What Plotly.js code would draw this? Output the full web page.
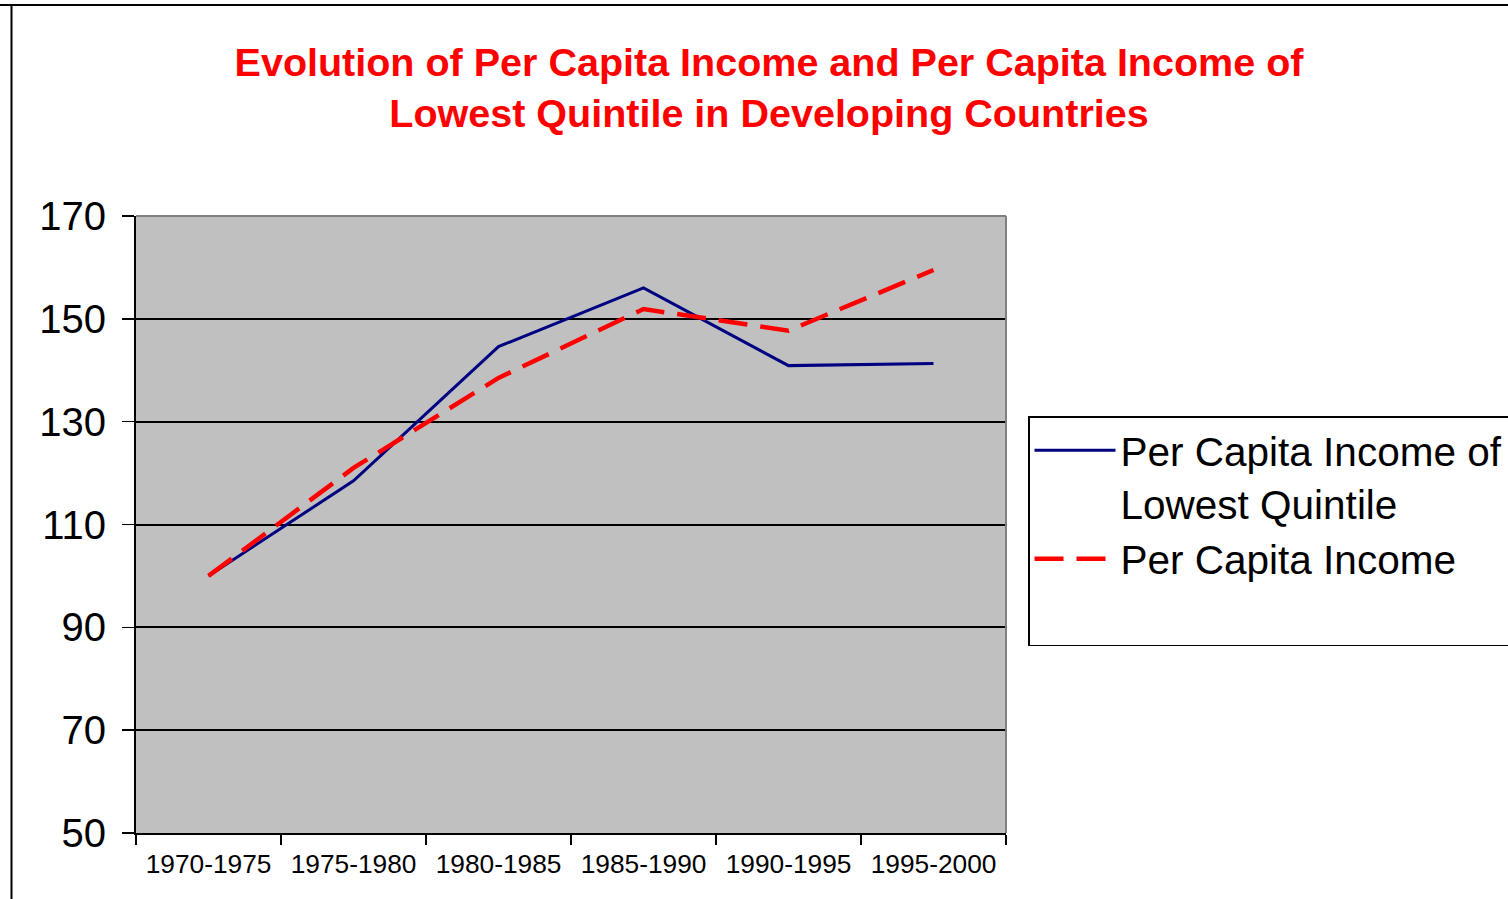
<!DOCTYPE html>
<html>
<head>
<meta charset="utf-8">
<script src="https://cdn.plot.ly/plotly-3.0.1.min.js"></script>
<style>
  html, body { margin: 0; padding: 0; background: #ffffff; overflow: hidden; width: 1508px; height: 899px; }
  #chart { width: 1560px; height: 899px; }
</style>
</head>
<body>
<div id="chart"></div>
<script>
// ---- data ----
const periods = ["1970-1975", "1975-1980", "1980-1985", "1985-1990", "1990-1995", "1995-2000"];
const lowestQuintile = [100, 118.5, 144.6, 156.0, 140.9, 141.3];
const perCapita = [100, 121.0, 138.5, 151.9, 147.7, 159.5];
const yTicks = [50, 70, 90, 110, 130, 150, 170];

const seriesNames = ["Per Capita Income of<br>Lowest Quintile", "Per Capita Income<br> "];

// ---- layout geometry (pixels) ----
const W = 1560, H = 899;
const L = 136, R = 1006, T = 216, B = 833;
const px2x = x => (x - L) / (R - L);
const px2y = y => (B - y) / (B - T);
const FONT = "Liberation Sans, Arial, sans-serif";

const traces = [
  {
    x: periods, y: lowestQuintile, name: seriesNames[0],
    type: "scatter", mode: "lines",
    line: { color: "#000080", width: 3 }
  },
  {
    x: periods, y: perCapita, name: seriesNames[1],
    type: "scatter", mode: "lines",
    line: { color: "#ff0000", width: 4.5, dash: "29px,13px" }
  }
];

const layout = {
  width: W, height: H,
  paper_bgcolor: "#ffffff",
  plot_bgcolor: "#c0c0c0",
  margin: { l: L, r: W - R, t: T, b: H - B, pad: 0 },
  font: { family: FONT, color: "#000000" },
  title: {
    text: "Evolution of Per Capita Income and Per Capita Income of<br>Lowest Quintile in Developing Countries",
    font: { family: FONT, size: 39.5, color: "#ff0000", weight: "bold" },
    xref: "container", yref: "container",
    x: 769 / W, xanchor: "center",
    y: 1 - 76 / H, yanchor: "top"
  },
  showlegend: true,
  legend: {
    x: px2x(1028), y: px2y(416), xanchor: "left", yanchor: "top",
    xref: "paper", yref: "paper",
    bgcolor: "#ffffff", bordercolor: "#000000", borderwidth: 1.5,
    font: { family: FONT, size: 40.5, color: "#000000" },
    itemwidth: 81,
    valign: "top",
    tracegroupgap: 0
  },
  xaxis: {
    type: "category",
    categoryorder: "array", categoryarray: periods,
    range: [-0.5, periods.length - 0.5],
    showgrid: false, zeroline: false,
    showline: true, linecolor: "#000000", linewidth: 2,
    ticks: "outside", tickson: "boundaries", ticklen: 10, tickwidth: 1.5, tickcolor: "#000000",
    tickfont: { family: FONT, size: 26.3, color: "#000000" },
    ticklabelstandoff: 6,
    fixedrange: true
  },
  yaxis: {
    range: [50, 170],
    tickvals: yTicks,
    ticktext: yTicks.map(String),
    showgrid: true, gridcolor: "#000000", gridwidth: 2,
    zeroline: false,
    showline: true, linecolor: "#000000", linewidth: 2,
    ticks: "outside", ticklen: 12, tickwidth: 1.5, tickcolor: "#000000",
    tickfont: { family: FONT, size: 40, color: "#000000" },
    ticklabelstandoff: 8,
    fixedrange: true
  },
  shapes: [
    // plot area top and right border (gray)
    { type: "line", xref: "paper", yref: "paper", x0: 0, x1: 1, y0: 1, y1: 1,
      line: { color: "#808080", width: 2 }, layer: "above" },
    { type: "line", xref: "paper", yref: "paper", x0: 1, x1: 1, y0: 0, y1: 1,
      line: { color: "#808080", width: 2 }, layer: "above" },
    // outer frame: top and left
    { type: "line", xref: "paper", yref: "paper", x0: px2x(0), x1: px2x(1600), y0: px2y(5), y1: px2y(5),
      line: { color: "#000000", width: 2 }, layer: "above" },
    { type: "line", xref: "paper", yref: "paper", x0: px2x(11.5), x1: px2x(11.5), y0: px2y(6), y1: px2y(905),
      line: { color: "#000000", width: 2 }, layer: "above" }
  ]
};

Plotly.newPlot("chart", traces, layout, { displayModeBar: false, staticPlot: true });
</script>
</body>
</html>
